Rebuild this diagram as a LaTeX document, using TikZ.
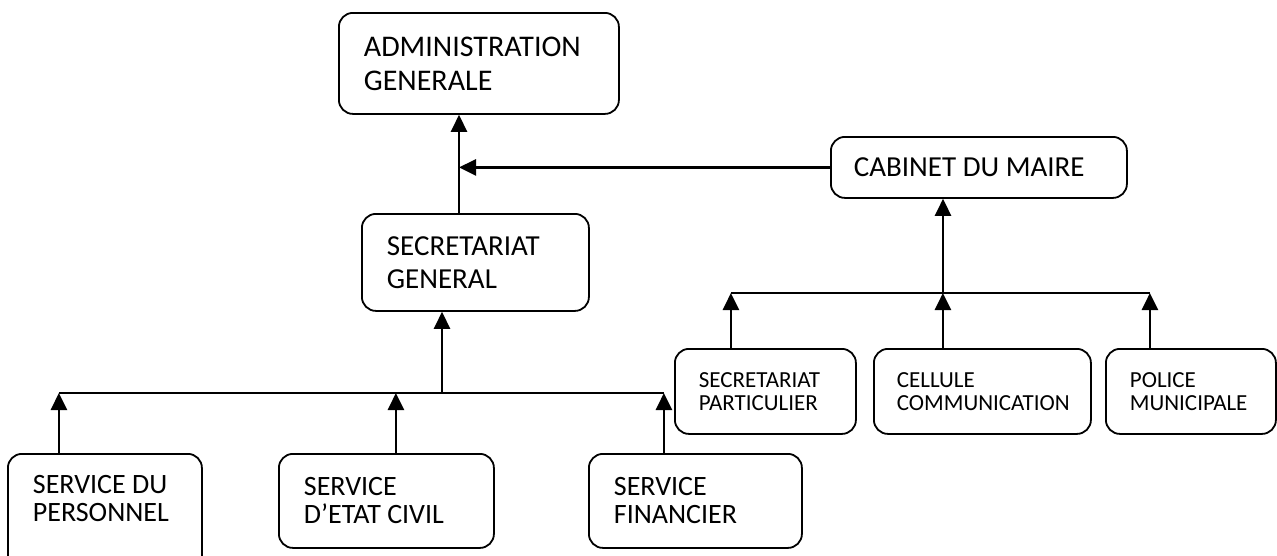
\documentclass[tikz,border=0pt]{standalone}
\usepackage{fontspec}
\setmainfont{Carlito}
\usetikzlibrary{positioning,calc,arrows.meta}
\uchyph=0
\hyphenpenalty=10000
\tikzset{
    every node/.style={font=\fontsize{28}{28}\selectfont},
    orgbox/.style={draw=black, line width=1.8pt, rounded corners=14pt, anchor=north west, align=flush left, inner xsep=25pt, inner ysep=0pt},
    smallbox/.style={orgbox, font=\fontsize{23}{23}\selectfont},
    arrow/.style={-{Triangle[length=17pt,width=16pt]}, line width=2.6pt},
    busline/.style={line width=2pt},
}

\begin{document}
\begin{tikzpicture}[x=1pt,y=-1pt]
\useasboundingbox (0,0) rectangle (1277,555);

% top of the chart
\node[orgbox, text width=230pt, minimum height=101pt, font=\fontsize{30}{34}\selectfont] (admin) at (338,12) {ADMINISTRATION\\GENERALE};
\node[orgbox, text width=177pt, minimum height=97pt, font=\fontsize{29}{33}\selectfont] (sg) at (361,213) {SECRETARIAT\\GENERAL};
\node[orgbox, text width=250pt, minimum height=61pt, font=\fontsize{29}{33}\selectfont, inner xsep=23pt] (cabinet) at (830,136) {CABINET DU MAIRE};

% services under the secretariat
\node[orgbox, text width=144pt, minimum height=118pt] (sdp) at (7,453) {SERVICE DU\\PERSONNEL\\\mbox{}};
\node[orgbox, text width=165pt, minimum height=94pt] (sec) at (278,453) {SERVICE\\D’ETAT CIVIL};
\node[orgbox, text width=163pt, minimum height=94pt] (sf) at (588,453) {SERVICE\\FINANCIER};

% units under the cabinet
\node[smallbox, text width=133pt, minimum height=85pt, inner xsep=24pt] (spart) at (674,348) {SECRETARIAT\\PARTICULIER};
\node[smallbox, text width=171pt, minimum height=85pt, inner xsep=23pt] (cellule) at (873,348) {CELLULE\\COMMUNICATION};
\node[smallbox, text width=122pt, minimum height=85pt, inner xsep=24pt] (police) at (1105,348) {POLICE\\MUNICIPALE};

\coordinate (spine) at (459,0);
\coordinate (lbus) at (442,393);
\coordinate (rbus) at (943,293);

\draw[arrow] (spine |- sg.north) -- (spine |- admin.south);
\draw[arrow] (cabinet.west) -- (cabinet.west -| spine);

% left branch
\draw[busline] ([xshift=-46pt]sdp.north |- lbus) -- ([xshift=-31.5pt]sf.north |- lbus);
\draw[arrow] (lbus) -- (lbus |- sg.south);
\foreach \name/\dx in {sdp/-46, sec/9.5, sf/-31.5}{
  \draw[arrow] ([xshift=\dx pt]\name.north) -- ([xshift=\dx pt]\name.north |- lbus);
}

% right branch
\draw[busline] ([xshift=-34.5pt]spart.north |- rbus) -- ([xshift=-41pt]police.north |- rbus);
\draw[arrow] (rbus) -- (rbus |- cabinet.south);
\foreach \name/\dx in {spart/-34.5, cellule/-39.5, police/-41}{
  \draw[arrow] ([xshift=\dx pt]\name.north) -- ([xshift=\dx pt]\name.north |- rbus);
}

\end{tikzpicture}
\end{document}
